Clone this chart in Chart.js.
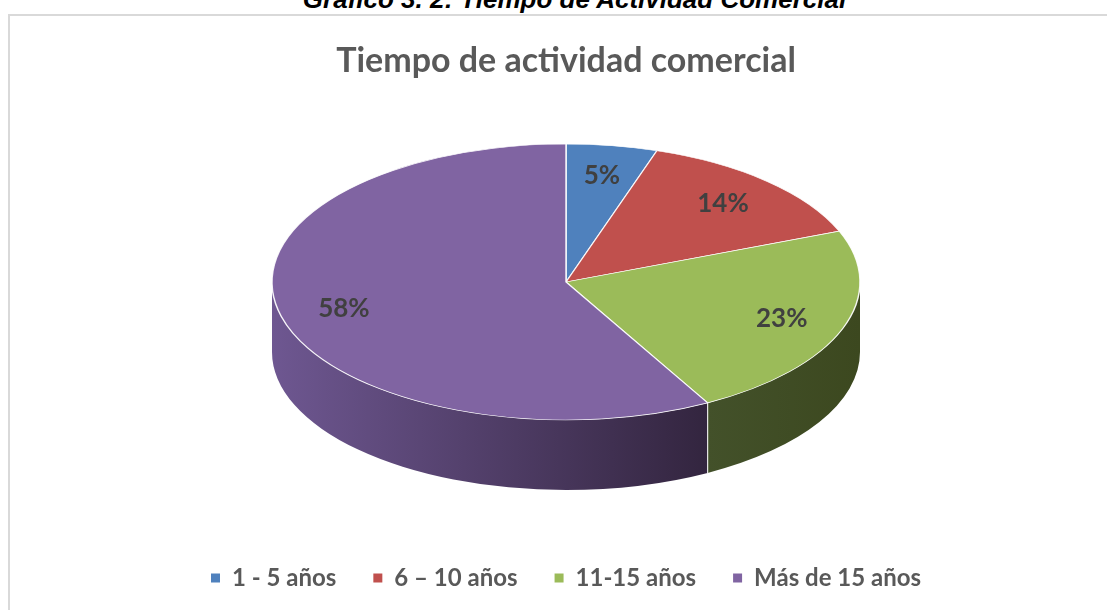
<!DOCTYPE html>
<html>
<head>
<meta charset="utf-8">
<script src="https://cdn.jsdelivr.net/npm/chart.js@4"></script>
<style>
  html, body { margin: 0; padding: 0; background: #fff; overflow: hidden; }
  body { width: 1107px; height: 610px; position: relative; }
  #caption {
    position: absolute; left: 0; top: -14px; width: 1149px; text-align: center;
    font: italic bold 26px "Liberation Sans", Arial, sans-serif; line-height: 26px; color: #000;
  }
  #frame {
    position: absolute; left: 8px; top: 14px; width: 1099px; height: 602px;
    border-top: 2px solid #d9d9d9; border-left: 2px solid #d9d9d9;
  }
  #chart { position: absolute; left: 0; top: 0; }
</style>
</head>
<body>
<div id="caption">Gráfico 3. 2: Tiempo de Actividad Comercial</div>
<div id="frame"><canvas id="chart" width="1097" height="600"></canvas></div>
<script>
// values
const categories = ["1 - 5 años", "6 – 10 años", "11-15 años", "Más de 15 años"];
const percentages = [5, 14, 23, 58];

const topColors = ["#4f81bd", "#c0504d", "#9bbb59", "#8064a2"];
// side wall gradient (light -> dark), only green and purple face the viewer
const sideColors = [
    ["#3f6797", "#2b4668"],
    ["#99403e", "#6c2c2b"],
    ["#43512a", "#3c481f"],
    ["#6e5791", "#33253f"],
];

const PIE_Y = 266;      // centre of top face in canvas px
const TILT = 138 / 294; // vertical squash of the top face
const DEPTH = 70;       // wall height
const LABEL_R = 0.78;

const pie3d = {
    id: "pie3d",
    beforeDatasetsDraw(chart) {
        const ctx = chart.ctx;
        const arcs = chart.getDatasetMeta(0).data;
        const cx = arcs[0].x, r = arcs[0].outerRadius, ry = r * TILT;

        arcs.forEach((arc, i) => {
            const a = Math.max(arc.startAngle, 0);
            const b = Math.min(arc.endAngle, Math.PI);
            if (b <= a) return;
            const x1 = cx + r * Math.cos(a), x2 = cx + r * Math.cos(b);
            const g = ctx.createLinearGradient(Math.min(x1, x2), 0, Math.max(x1, x2), 0);
            g.addColorStop(0, sideColors[i][0]);
            g.addColorStop(1, sideColors[i][1]);
            ctx.save();
            ctx.beginPath();
            ctx.ellipse(cx, PIE_Y, r, ry, 0, a, b);
            ctx.ellipse(cx, PIE_Y + DEPTH, r, ry, 0, b, a, true);
            ctx.closePath();
            ctx.fillStyle = g;
            ctx.fill();
            ctx.restore();
        });

        // seams between walls
        ctx.save();
        ctx.strokeStyle = "rgba(255,255,255,0.85)";
        ctx.lineWidth = 1.2;
        arcs.forEach(arc => {
            const t = arc.startAngle;
            if (t > 0 && t < Math.PI) {
                const x = cx + r * Math.cos(t), y = PIE_Y + ry * Math.sin(t);
                ctx.beginPath();
                ctx.moveTo(x, y);
                ctx.lineTo(x, y + DEPTH);
                ctx.stroke();
            }
        });
        ctx.restore();

        // squash the flat pie into the top face
        ctx.save();
        ctx.translate(0, PIE_Y);
        ctx.scale(1, TILT);
        ctx.translate(0, -arcs[0].y);
    },
    afterDatasetsDraw(chart) {
        const ctx = chart.ctx;
        ctx.restore();
        const arcs = chart.getDatasetMeta(0).data;
        const cx = arcs[0].x, r = arcs[0].outerRadius, ry = r * TILT;
        ctx.save();
        ctx.font = "bold 26px Lato";
        ctx.fillStyle = "#404040";
        ctx.textAlign = "center";
        ctx.textBaseline = "middle";
        arcs.forEach((arc, i) => {
            const mid = (arc.startAngle + arc.endAngle) / 2;
            ctx.fillText(percentages[i] + "%",
                cx + Math.cos(mid) * r * LABEL_R,
                PIE_Y + Math.sin(mid) * ry * LABEL_R);
        });
        ctx.restore();
    }
};

new Chart(document.getElementById("chart").getContext("2d"), {
    type: "pie",
    data: {
        labels: categories,
        datasets: [{
            data: percentages,
            backgroundColor: topColors,
            borderColor: "rgba(255,255,255,0.9)",
            borderWidth: 1.5,
            radius: 294,
            clip: false,
        }],
    },
    options: {
        responsive: false,
        animation: false,
        layout: { padding: { left: 15, bottom: 16 } },
        plugins: {
            title: {
                display: true,
                text: "Tiempo de actividad comercial",
                color: "#595959",
                font: { family: "Lato", size: 34, weight: "bold" },
                padding: { top: 25, bottom: 0 },
            },
            legend: {
                position: "bottom",
                labels: {
                    color: "#595959",
                    font: { family: "Lato", size: 24, weight: "bold" },
                    boxWidth: 9,
                    boxHeight: 9,
                    padding: 37,
                    generateLabels(chart) {
                        const items = Chart.overrides.pie.plugins.legend.labels.generateLabels(chart);
                        return items.map(it => ({ ...it, lineWidth: 0, strokeStyle: "transparent" }));
                    },
                },
            },
            tooltip: { enabled: false },
        },
    },
    plugins: [pie3d],
});
</script>
</body>
</html>
